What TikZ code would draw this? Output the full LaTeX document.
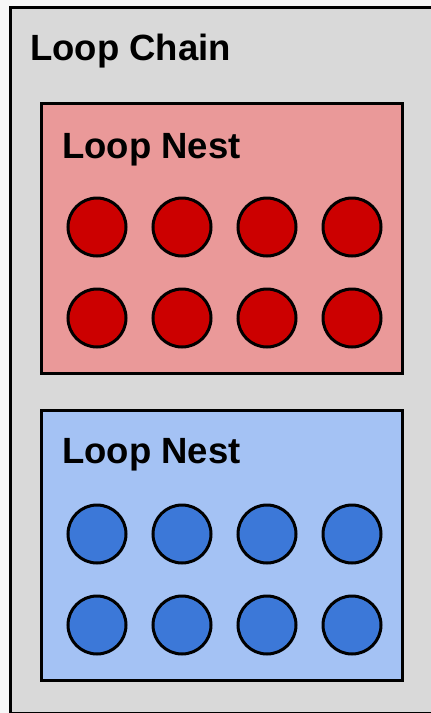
\documentclass[tikz,border=0pt]{standalone}
\usepackage{fontspec}
\setmainfont{Liberation Sans}
\definecolor{chaingray}{HTML}{D9D9D9}
\definecolor{nestred}{HTML}{EA9999}
\definecolor{iterred}{HTML}{CC0000}
\definecolor{nestblue}{HTML}{A4C2F4}
\definecolor{iterblue}{HTML}{3C78D8}
\begin{document}
\begin{tikzpicture}[x=1pt,y=-1pt,
  box/.style={draw,rectangle,line width=3pt,inner sep=0pt},
  iter/.style={draw,circle,line width=3pt,minimum size=58pt,inner sep=0pt},
  title/.style={anchor=base west,inner sep=0pt,font=\bfseries\fontsize{36.5}{40}\selectfont}]
\useasboundingbox(0,0)rectangle(431,713);
\fill[white!97!black](0,0)rectangle(431,713);
\clip(0,0)rectangle(431,713);
% chain around the two nests
\node[box,fill=chaingray,minimum width=423.5pt,minimum height=706pt](chain)at(222.25,360.5){};
\node[title](chaint)at(30,60){Loop Chain};
\node[box,fill=nestred,minimum width=360.5pt,minimum height=270.5pt](rnest)at(221.75,238.25){};
\node[title](rnestt)at(62,158){Loop Nest};
\node[box,fill=nestblue,minimum width=360.5pt,minimum height=270.5pt](bnest)at(221.75,545.25){};
\node[title](bnestt)at(62,463){Loop Nest};
% iterations
\foreach\i in{1,...,4}\foreach\j in{1,2}{
  \node[iter,fill=iterred](r\i\j)at(12+85*\i,136+91*\j){};
  \node[iter,fill=iterblue](b\i\j)at(12+85*\i,443+91*\j){};}
\end{tikzpicture}
\end{document}
